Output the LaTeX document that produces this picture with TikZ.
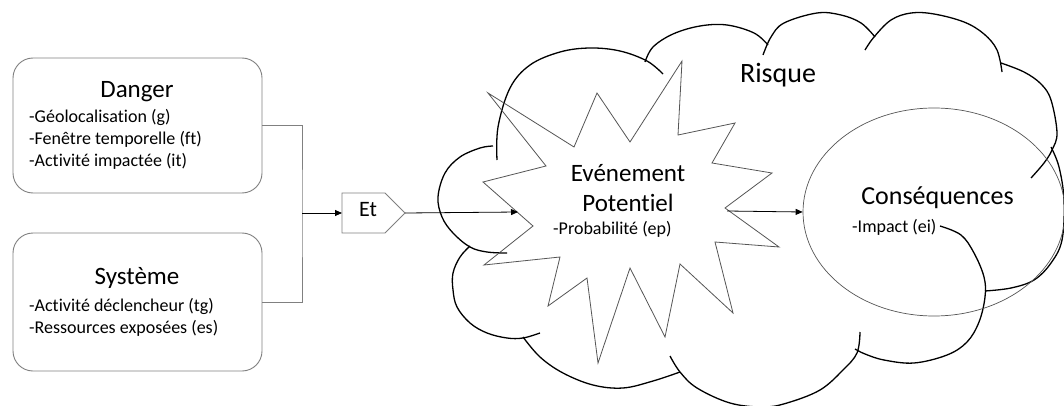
\documentclass[tikz,border=0pt]{standalone}
\usepackage{fontspec}
\setmainfont{Carlito}[Ligatures={NoCommon,NoContextual}]
\usetikzlibrary{arrows.meta,shapes.geometric}
\tikzset{
  boxstyle/.style={draw=boxgray, line width=0.9pt, rounded corners=20pt, minimum width=249pt, inner sep=0pt},
  titletext/.style={inner sep=0pt, font=\fontsize{25}{30}\selectfont, text height=0.75em, text depth=0.25em},
  itemtext/.style={inner sep=0pt, anchor=west, font=\fontsize{18}{21.6}\selectfont, text height=0.75em, text depth=0.25em},
  grayline/.style={draw=boxgray, line width=0.9pt},
  arr/.style={draw=black, line width=0.8pt, -{Triangle[length=7pt,width=6pt]}},
  lobe/.style={draw=black, line width=1.3pt, smooth, tension=0.6},
  burst/.style={draw=burstgray, line width=0.8pt, line join=miter},
  conseq/.style={draw=burstgray, line width=0.7pt, ellipse, inner sep=0pt, minimum width=262pt, minimum height=208pt}
}
\definecolor{boxgray}{HTML}{808080}
\definecolor{burstgray}{HTML}{555555}
\begin{document}
\begin{tikzpicture}[x=1pt,y=-1pt]
\fill[white] (0,0) rectangle (1064,406);
\useasboundingbox (0,0) rectangle (1064,406);

% left boxes
\node[boxstyle, minimum height=135pt] (danger) at (137.5,125.5) {};
\node[titletext] (dangerT) at (137,95) {Danger};
\node[itemtext] (dangerA) at (29,120.5) {-Géolocalisation (g)};
\node[itemtext] (dangerB) at (29,142.2) {-Fenêtre temporelle (ft)};
\node[itemtext] (dangerC) at (29,163.8) {-Activité impactée (it)};

\node[boxstyle, minimum height=138pt] (systeme) at (137.5,302) {};
\node[titletext] (systemeT) at (137,282) {Système};
\node[itemtext] (systemeA) at (29,308.8) {-Activité déclencheur (tg)};
\node[itemtext] (systemeB) at (29,330.5) {-Ressources exposées (es)};

% junction and Et gate
\coordinate (junc) at (302,213);
\coordinate (etW) at (342,213);
\coordinate (etE) at (405,213);
\path[grayline] (342,193) -- (385,193) -- (etE) -- (385,233) -- (342,233) -- cycle;
\node[titletext, font=\fontsize{22}{26}\selectfont] (et) at (368,213.5) {Et};
\draw[grayline] (danger.east) -| (junc) |- (systeme.east);
\draw[arr] (junc) -- (etW);

% cloud lobes
\draw[lobe] plot coordinates {(497,160) (498,127) (510,88) (530,65) (560,52) (590,48) (620,51) (647,61) (663,74)};
\draw[lobe] plot coordinates {(645,62) (653,47) (673,34) (700,26) (727,25) (754,33) (768,45)};
\draw[lobe] plot coordinates {(763,55) (771,37) (784,23) (817,13) (841,15) (861,23) (875,37)};
\draw[lobe] plot coordinates {(865,50) (874,37) (891,20) (911,13) (934,14) (964,22) (984,34) (997,50) (1002,72)};
\draw[lobe] plot coordinates {(1001,63) (1024,72) (1041,84) (1051,100) (1057,133) (1052,150) (1044,163) (1031,178)};
\draw[lobe] plot coordinates {(1051,147) (1059,167) (1064,200) (1062,240) (1051,263) (1034,280) (1011,288) (985,291)};
\draw[lobe] plot coordinates {(940,226) (961,235) (974,253) (984,277) (985,297) (979,322) (967,342) (947,355) (914,363) (884,360) (865,354) (855,349)};
\draw[lobe] plot coordinates {(670,356) (680,372) (697,388) (730,403) (763,407) (787,403) (820,390) (843,370) (857,353) (860,332)};
\draw[lobe] plot coordinates {(523,337) (540,357) (563,373) (593,385) (623,388) (653,381) (680,372)};
\draw[lobe] plot coordinates {(470,246) (460,257) (453,273) (453,290) (457,307) (470,323) (487,333) (507,338) (523,338) (540,333)};
\draw[lobe] plot coordinates {(493,146) (480,148) (460,157) (445,173) (438,197) (442,217) (453,233) (470,247) (487,252) (507,253)};
\node[titletext, font=\fontsize{28}{33}\selectfont] (risque) at (778,80) {Risque};

% starburst
\draw[burst] (488,93) -- (574,147) -- (597,93) -- (630,142) -- (682,61) -- (678,135) -- (735,123) -- (712,163) -- (772,173) -- (725,208) -- (779,247) -- (715,242) -- (733,313) -- (680,264) -- (665,337) -- (630,268) -- (598,363) -- (587,278) -- (548,306) -- (560,257) -- (484,265) -- (533,226) -- (483,182) -- (546,166) -- cycle;
\coordinate (evL) at (518,212);
\coordinate (evR) at (727,211);
\node[titletext] (evA) at (628,179) {Evénement};
\node[titletext] (evB) at (628,208.7) {Potentiel};
\node[itemtext] (evC) at (553,231.5) {-Probabilité (ep)};

% consequences
\node[conseq] (cons) at (934,212) {};
\node[titletext, font=\fontsize{26}{31}\selectfont] (consT) at (937.5,202) {Conséquences};
\node[itemtext] (consA) at (852,229.8) {-Impact (ei)};

\draw[arr] (etE) -- (evL);
\draw[arr] (evR) -- (cons.west);
\end{tikzpicture}
\end{document}
